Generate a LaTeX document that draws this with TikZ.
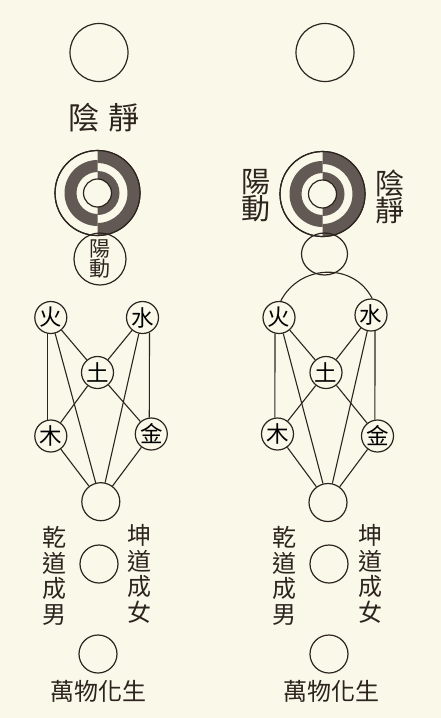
\documentclass[tikz,border=0pt]{standalone}
\usepackage{fontspec}
\setmainfont{Noto Sans CJK TC}
\usetikzlibrary{shapes.geometric}

\definecolor{paper}{RGB}{250,249,233}
\definecolor{ink}{RGB}{45,36,32}
\definecolor{ringdark}{RGB}{98,88,84}

\tikzset{
  base/.style={circle, draw=ink, line width=1.2pt, inner sep=0pt},
  elem/.style={base, minimum size=32pt, font=\fontsize{22.5}{22.5}\selectfont},
  void/.style={base, minimum size=38pt},
  txt/.style={text=ink, inner sep=0pt, align=center},
  link/.style={draw=ink, line width=1.1pt},
}

% Kan-Li rings inside a named circle node
\newcommand{\kanli}[1]{%
  % left half: middle band
  \fill[ringdark] (#1.center) ++(0,33) arc[start angle=90,end angle=270,radius=33]
    -- ++(0,12) arc[start angle=270,end angle=90,radius=21] -- cycle;
  % right half: outer band
  \fill[ringdark] (#1.center) ++(0,-42.5) arc[start angle=-90,end angle=90,radius=42.5]
    -- ++(0,-12.5) arc[start angle=90,end angle=-90,radius=30] -- cycle;
  % right half: inner band
  \fill[ringdark] (#1.center) ++(0,-22) arc[start angle=-90,end angle=90,radius=22]
    -- ++(0,-8) arc[start angle=90,end angle=-90,radius=14] -- cycle;
  \draw[ink, line width=1.2pt] (#1.center) circle[radius=42.5];
  \draw[ink, line width=1.2pt] (#1.center) circle[radius=14];
}

\begin{document}
\begin{tikzpicture}[x=1pt, y=1pt]
  % page
  \fill[paper] (0,0) rectangle (441,-718);
  \useasboundingbox (0,0) rectangle (441,-718);

  % ---- left diagram ----
  \node[base, minimum size=58pt] (wujiL) at (99,-52.5) {};
  \node[txt, font=\fontsize{31}{31}\selectfont] (yinjingL) at (104,-118) {陰\hspace{9pt}靜};
  \node[base, minimum size=85pt] (kanliL) at (97.5,-193) {};
  \kanli{kanliL}
  \node[base, minimum size=52pt, font=\fontsize{21}{19}\selectfont, align=center, text=ink]
    (yangdongL) at (100,-259) {陽\\動};

  \node[elem] (huoL) at (50.8,-317.5) {火};
  \node[elem] (shuiL) at (142.5,-317.5) {水};
  \node[elem] (tuL) at (97.5,-372.5) {土};
  \node[elem] (muL) at (50.8,-436) {木};
  \node[elem] (jinL) at (151.3,-434) {金};
  \node[void] (heL) at (100.8,-501.7) {};

  \draw[link] (huoL.260) -- (muL.100);
  \draw[link] (shuiL.295) -- (jinL.97);

  \node[void] (qiankunL) at (99,-564) {};
  \node[txt, font=\fontsize{24}{25.5}\selectfont] (qianL) at (54,-576) {乾\\道\\成\\男};
  \node[txt, font=\fontsize{24}{25.5}\selectfont] (kunL) at (139,-574) {坤\\道\\成\\女};
  \node[void] (wanwuL) at (98,-654) {};
  \node[txt, font=\fontsize{24}{24}\selectfont] (huashengL) at (98.5,-691) {萬物化生};

  % ---- right diagram ----
  \node[base, minimum size=58pt] (wujiR) at (325,-52.5) {};
  \node[base, minimum size=85pt] (kanliR) at (322.5,-194) {};
  \kanli{kanliR}
  \node[txt, font=\fontsize{29}{27}\selectfont] (yangdongR) at (256,-196) {陽\\動};
  \node[txt, font=\fontsize{29}{27}\selectfont] (yinjingR) at (389.5,-197) {陰\\靜};
  \node[ellipse, draw=ink, line width=1.2pt, inner sep=0pt, minimum width=46pt, minimum height=42pt]
    (ovalR) at (324.5,-254) {};

  \node[elem] (huoR) at (279,-317.5) {火};
  \node[elem] (shuiR) at (371,-315) {水};
  \node[elem] (tuR) at (326,-372.5) {土};
  \node[elem] (muR) at (277.5,-434) {木};
  \node[elem] (jinR) at (377.5,-436) {金};
  \node[void] (heR) at (328,-502.5) {};

  \draw[link] (huoR.84) to[out=63, in=117, looseness=1.15] (shuiR.86);
  \draw[link] (huoR.256) -- (muR.99);
  \draw[link] (shuiR.284) -- (jinR.99);

  \node[void] (qiankunR) at (329,-564) {};
  \node[txt, font=\fontsize{24}{25.5}\selectfont] (qianR) at (284,-576) {乾\\道\\成\\男};
  \node[txt, font=\fontsize{24}{25.5}\selectfont] (kunR) at (370,-574) {坤\\道\\成\\女};
  \node[void] (wanwuR) at (329,-654) {};
  \node[txt, font=\fontsize{24}{24}\selectfont] (huashengR) at (331,-691) {萬物化生};

  % five phases, both sides
  \foreach \s in {L,R} {
    \draw[link] (huo\s) -- (tu\s);
    \draw[link] (shui\s) -- (tu\s);
    \draw[link] (tu\s) -- (mu\s);
    \draw[link] (tu\s) -- (jin\s);
    \draw[link] (huo\s) -- (he\s);
    \draw[link] (shui\s) -- (he\s);
    \draw[link] (mu\s) -- (he\s);
    \draw[link] (jin\s) -- (he\s);
  }
\end{tikzpicture}
\end{document}
